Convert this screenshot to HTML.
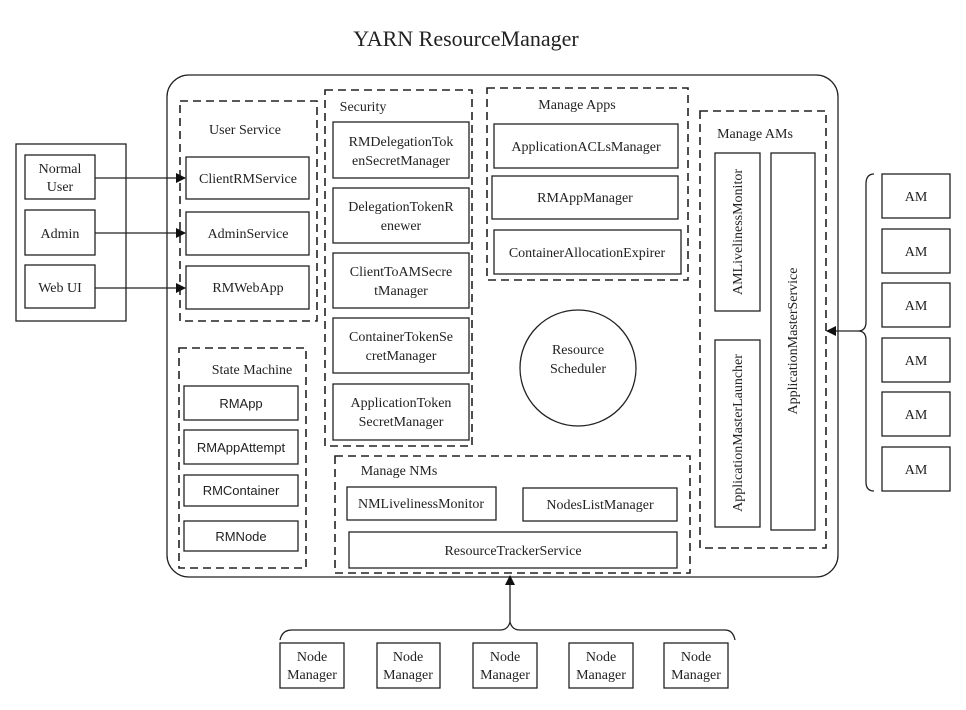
<!DOCTYPE html>
<html><head><meta charset="utf-8"><style>
body{margin:0;background:#fff}
svg text{font-family:"Liberation Serif",serif;font-size:14px;fill:#222}
.s{font-family:"Liberation Sans",sans-serif;font-size:13px}
</style></head><body>
<svg width="966" height="705" viewBox="0 0 966 705" xmlns="http://www.w3.org/2000/svg">
<defs><marker id="a" markerWidth="10" markerHeight="10" refX="9" refY="5" orient="auto" markerUnits="userSpaceOnUse"><path d="M0,0 L10,5 L0,10 z" fill="#111"/></marker></defs>
<g fill="none" stroke="#222" stroke-width="1.3">
<text x="466" y="46" text-anchor="middle" style="font-size:22px" stroke="none">YARN ResourceManager</text>
<rect x="167" y="75" width="671" height="502" rx="22"/>
<rect x="16" y="144" width="110" height="177"/>
<rect x="25" y="155" width="70" height="44"/><rect x="25" y="210" width="70" height="45"/><rect x="25" y="265" width="70" height="43"/>
<g stroke-dasharray="8,5" stroke-width="1.6">
<rect x="180" y="101" width="137" height="220"/>
<rect x="325" y="90" width="147" height="356"/>
<rect x="487" y="88" width="201" height="192"/>
<rect x="700" y="111" width="126" height="437"/>
<rect x="179" y="348" width="127" height="220"/>
<rect x="335" y="456" width="355" height="117"/>
</g>
<rect x="186" y="157" width="123" height="42"/><rect x="186" y="212" width="123" height="43"/><rect x="186" y="266" width="123" height="43"/>
<rect x="333" y="122" width="136" height="56"/><rect x="333" y="188" width="136" height="55"/><rect x="333" y="253" width="136" height="55"/><rect x="333" y="318" width="136" height="55"/><rect x="333" y="384" width="136" height="56"/>
<rect x="494" y="124" width="184" height="44"/><rect x="492" y="176" width="186" height="43"/><rect x="494" y="230" width="187" height="44"/>
<rect x="715" y="153" width="45" height="158"/><rect x="771" y="153" width="44" height="377"/><rect x="715" y="340" width="45" height="187"/>
<circle cx="578" cy="368" r="58"/>
<rect x="184" y="386" width="114" height="34"/><rect x="184" y="430" width="114" height="34"/><rect x="184" y="475" width="114" height="31"/><rect x="184" y="521" width="114" height="30"/>
<rect x="347" y="487" width="149" height="33"/><rect x="523" y="488" width="154" height="33"/><rect x="349" y="532" width="328" height="36"/>
<rect x="280" y="643" width="64" height="45"/><rect x="377" y="643" width="63" height="45"/><rect x="473" y="643" width="64" height="45"/><rect x="569" y="643" width="64" height="45"/><rect x="664" y="643" width="64" height="45"/>
<rect x="882" y="174" width="68" height="44"/><rect x="882" y="229" width="68" height="44"/><rect x="882" y="283" width="68" height="44"/><rect x="882" y="338" width="68" height="44"/><rect x="882" y="392" width="68" height="44"/><rect x="882" y="447" width="68" height="44"/>
<line x1="95" y1="178" x2="185" y2="178" marker-end="url(#a)"/>
<line x1="95" y1="233" x2="185" y2="233" marker-end="url(#a)"/>
<line x1="95" y1="288" x2="185" y2="288" marker-end="url(#a)"/>
<path d="M280,640 Q282,630 292,630 L500,630 Q508,630 510,622 Q512,630 520,630 L725,630 Q733,630 735,640"/>
<line x1="510" y1="622" x2="510" y2="576" marker-end="url(#a)"/>
<path d="M874,174 Q866,174 866,184 L866,322 Q866,331 858,331 Q866,331 866,340 L866,482 Q866,491 874,491"/>
<line x1="858" y1="331" x2="827" y2="331" marker-end="url(#a)"/>
</g>
<g text-anchor="middle">
<text x="60" y="173">Normal</text><text x="60" y="191">User</text>
<text x="60" y="238">Admin</text><text x="60" y="292">Web UI</text>
<text x="245" y="134">User Service</text>
<text x="248" y="183">ClientRMService</text><text x="248" y="238">AdminService</text><text x="248" y="292">RMWebApp</text>
<text x="363" y="111">Security</text>
<text x="401" y="146">RMDelegationTok</text><text x="401" y="165">enSecretManager</text>
<text x="401" y="211">DelegationTokenR</text><text x="401" y="230">enewer</text>
<text x="401" y="276">ClientToAMSecre</text><text x="401" y="295">tManager</text>
<text x="401" y="341">ContainerTokenSe</text><text x="401" y="360">cretManager</text>
<text x="401" y="407">ApplicationToken</text><text x="401" y="426">SecretManager</text>
<text x="577" y="109">Manage Apps</text>
<text x="586" y="151">ApplicationACLsManager</text><text x="585" y="202">RMAppManager</text><text x="587" y="257">ContainerAllocationExpirer</text>
<text x="578" y="354">Resource</text><text x="578" y="373">Scheduler</text>
<text x="755" y="138">Manage AMs</text>
<text transform="translate(742,232) rotate(-90)">AMLivelinessMonitor</text>
<text transform="translate(797,341) rotate(-90)">ApplicationMasterService</text>
<text transform="translate(742,433) rotate(-90)">ApplicationMasterLauncher</text>
<text x="252" y="374">State Machine</text>
<text class="s" x="241" y="408">RMApp</text><text class="s" x="241" y="452">RMAppAttempt</text><text class="s" x="241" y="495">RMContainer</text><text class="s" x="241" y="541">RMNode</text>
<text x="399" y="475">Manage NMs</text>
<text x="421" y="508">NMLivelinessMonitor</text><text x="600" y="509">NodesListManager</text><text x="513" y="555">ResourceTrackerService</text>
<text x="312" y="661">Node</text><text x="312" y="679">Manager</text>
<text x="408" y="661">Node</text><text x="408" y="679">Manager</text>
<text x="505" y="661">Node</text><text x="505" y="679">Manager</text>
<text x="601" y="661">Node</text><text x="601" y="679">Manager</text>
<text x="696" y="661">Node</text><text x="696" y="679">Manager</text>
<text x="916" y="201">AM</text><text x="916" y="256">AM</text><text x="916" y="310">AM</text><text x="916" y="365">AM</text><text x="916" y="419">AM</text><text x="916" y="474">AM</text>
</g>
</svg>
</body></html>
